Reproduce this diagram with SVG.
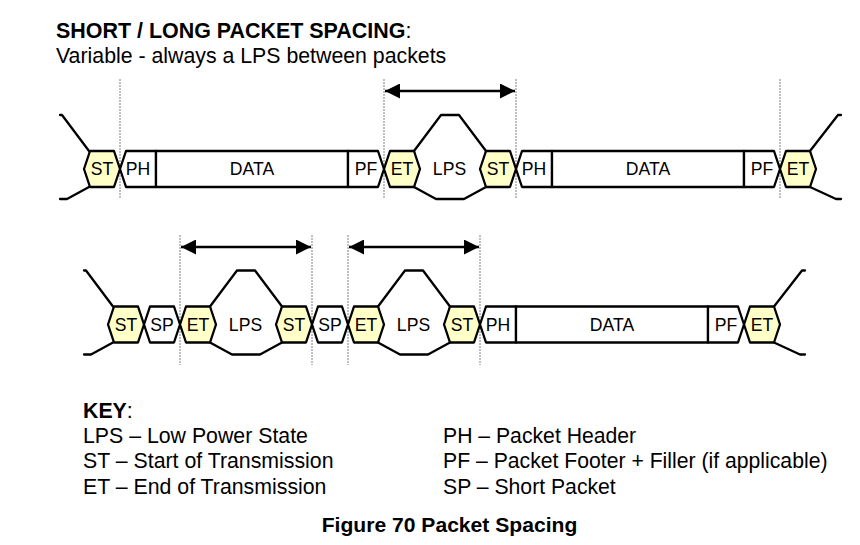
<svg xmlns="http://www.w3.org/2000/svg" width="860" height="545" viewBox="0 0 860 545">
<style>
text{font-family:"Liberation Sans",Arial,sans-serif;fill:#000}
.h{font-size:21.3px}
.t{font-size:21.45px}
.p{font-size:21.2px}
.c{font-size:21.1px;font-weight:bold;text-anchor:middle}
.l{font-size:17.6px;text-anchor:middle}
.b{font-weight:bold}
.s{fill:#fff;stroke:#000;stroke-width:2.300;stroke-linejoin:round}
.y{fill:#ffffc8;stroke:#000;stroke-width:2.300;stroke-linejoin:round}
.w{fill:none;stroke:#000;stroke-width:2.300;stroke-linecap:round;stroke-linejoin:round}
.g{stroke:#808080;stroke-width:1;stroke-dasharray:2 1;fill:none}
.a{stroke:#000;stroke-width:2.300;fill:none;marker-start:url(#ah);marker-end:url(#ah)}
</style>
<defs>
<marker id="ah" viewBox="0 0 15 15" refX="15" refY="7.5" markerWidth="15" markerHeight="15" markerUnits="userSpaceOnUse" orient="auto-start-reverse"><path d="M0 0L15 7.5L0 15Z" fill="#000"/></marker>
</defs>
<rect width="860" height="545" fill="#fff"/>
<g id="title">
<text x="56" y="38" class="t"><tspan class="b">SHORT / LONG PACKET SPACING</tspan>:</text>
<text x="56" y="63" class="h">Variable - always a LPS between packets</text>
</g>
<g id="connectors">
<path class="g" d="M120 79V199M384 79V199M516 79V199M780 79V199M180 235V365M312 235V365M348 235V365M480 235V365"/>
<path class="a" d="M385 91H515"/>
<path class="a" d="M181 247H311"/>
<path class="a" d="M349 247H479"/>
<path class="w" d="M89 151L62 115H60M89 187L67 199H60M810 151L838 115H841M810 187L836 199H841"/>
<path class="w" d="M113 306.500L86 270.500H84M113 342.500L91 354.500H84M774 306.500L802 270.500H805M774 342.500L800 354.500H805"/>
</g>
<g id="row1">
<g id="r1-st1"><path class="y" d="M84 169L90 151H114L120 169L114 187H90Z"/><text class="l" x="102" y="175">ST</text></g>
<g id="r1-ph1"><path class="s" d="M120 169L126 151H156V187H126Z"/><text class="l" x="138" y="175">PH</text></g>
<g id="r1-data1"><rect class="s" x="156" y="151" width="192" height="36"/><text class="l" x="252" y="175">DATA</text></g>
<g id="r1-pf1"><path class="s" d="M348 151H378L384 169L378 187H348Z"/><text class="l" x="366" y="175">PF</text></g>
<g id="r1-lps"><path class="s" d="M414 151L441 115H459L486 151V187L464 199H436L414 187Z"/><text class="l" x="449.500" y="175">LPS</text></g>
<g id="r1-et1"><path class="y" d="M384 169L390 151H414L420 169L414 187H390Z"/><text class="l" x="402" y="175">ET</text></g>
<g id="r1-st2"><path class="y" d="M480 169L486 151H510L516 169L510 187H486Z"/><text class="l" x="498" y="175">ST</text></g>
<g id="r1-ph2"><path class="s" d="M516 169L522 151H552V187H522Z"/><text class="l" x="534" y="175">PH</text></g>
<g id="r1-data2"><rect class="s" x="552" y="151" width="192" height="36"/><text class="l" x="648" y="175">DATA</text></g>
<g id="r1-pf2"><path class="s" d="M744 151H774L780 169L774 187H744Z"/><text class="l" x="762" y="175">PF</text></g>
<g id="r1-et2"><path class="y" d="M780 169L786 151H810L816 169L810 187H786Z"/><text class="l" x="798" y="175">ET</text></g>
</g>
<g id="row2" transform="translate(0 155.500)">
<g id="r2-st1"><path class="y" d="M108 169L114 151H138L144 169L138 187H114Z"/><text class="l" x="126" y="175">ST</text></g>
<g id="r2-sp1"><path class="s" d="M144 169L150 151H174L180 169L174 187H150Z"/><text class="l" x="162" y="175">SP</text></g>
<g id="r2-lps1"><path class="s" d="M210 151L237 115H255L282 151V187L260 199H232L210 187Z"/><text class="l" x="245.500" y="175">LPS</text></g>
<g id="r2-et1"><path class="y" d="M180 169L186 151H210L216 169L210 187H186Z"/><text class="l" x="198" y="175">ET</text></g>
<g id="r2-st2"><path class="y" d="M276 169L282 151H306L312 169L306 187H282Z"/><text class="l" x="294" y="175">ST</text></g>
<g id="r2-sp2"><path class="s" d="M312 169L318 151H342L348 169L342 187H318Z"/><text class="l" x="330" y="175">SP</text></g>
<g id="r2-lps2"><path class="s" d="M378 151L405 115H423L450 151V187L428 199H400L378 187Z"/><text class="l" x="413.500" y="175">LPS</text></g>
<g id="r2-et2"><path class="y" d="M348 169L354 151H378L384 169L378 187H354Z"/><text class="l" x="366" y="175">ET</text></g>
<g id="r2-st3"><path class="y" d="M444 169L450 151H474L480 169L474 187H450Z"/><text class="l" x="462" y="175">ST</text></g>
<g id="r2-ph"><path class="s" d="M480 169L486 151H516V187H486Z"/><text class="l" x="498" y="175">PH</text></g>
<g id="r2-data"><rect class="s" x="516" y="151" width="192" height="36"/><text class="l" x="612" y="175">DATA</text></g>
<g id="r2-pf"><path class="s" d="M708 151H738L744 169L738 187H708Z"/><text class="l" x="726" y="175">PF</text></g>
<g id="r2-et3"><path class="y" d="M744 169L750 151H774L780 169L774 187H750Z"/><text class="l" x="762" y="175">ET</text></g>
</g>
<g id="key">
<text x="83" y="418" class="h"><tspan class="b">KEY</tspan>:</text>
<text x="83" y="443" class="h">LPS – Low Power State</text>
<text x="83" y="468" class="h">ST – Start of Transmission</text>
<text x="83" y="494" class="h">ET – End of Transmission</text>
<text x="443" y="443" class="p">PH – Packet Header</text>
<text x="443" y="468" class="p">PF – Packet Footer + Filler (if applicable)</text>
<text x="443" y="494" class="p">SP – Short Packet</text>
</g>
<text id="caption" x="449.500" y="532" class="c">Figure 70 Packet Spacing</text>
</svg>
